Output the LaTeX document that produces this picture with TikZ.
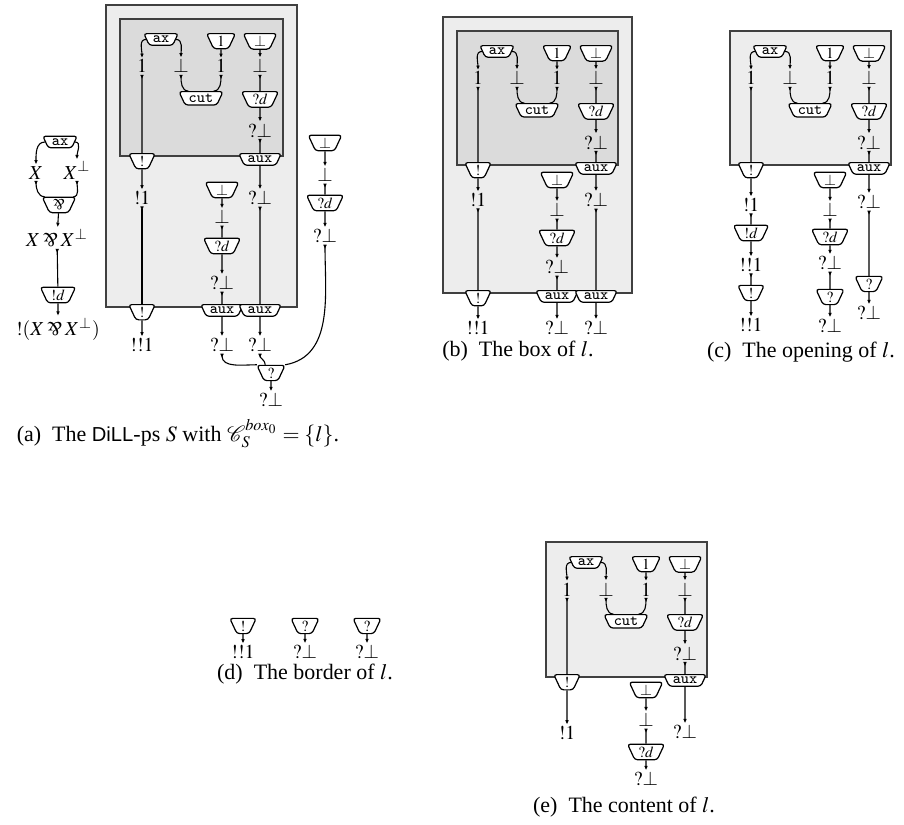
\documentclass[tikz,border=0pt]{standalone}
\usepackage{mathptmx}
\usepackage{fontspec}
\setmainfont{Liberation Serif}
\setsansfont{Liberation Sans}[Scale=0.92]
\usepackage{graphicx}
\usepackage{tikz}
\usetikzlibrary{arrows.meta,shapes.geometric}
\newcommand{\parrsym}{\mathbin{\rotatebox[origin=c]{180}{$\&$}}}
\tikzset{
  pcell/.style={shape=trapezium,shape border rotate=180,trapezium angle=65,draw,fill=white,
    rounded corners=1.3pt,line width=0.55pt,inner xsep=1.6pt,inner ysep=1.1pt,font=\scriptsize},
  topcell/.style={pcell,anchor=north},
  fml/.style={inner sep=0.6pt,font=\small},
  wire/.style={line width=0.5pt},
  flow/.style={wire,-{Latex[length=2pt,width=1.7pt]}},
  fromlab/.style={wire,{Latex[length=2pt,width=1.7pt,reversed]}-},
  outerbox/.style={draw=black!75,fill=black!7,line width=0.5pt},
  innerbox/.style={draw=black!75,fill=black!14,line width=0.5pt},
  subcap/.style={anchor=base,inner sep=0pt}
}
% contents of the box l, placed from the top left corner of its frame
\newcommand{\lcontent}[3]{%
  \begin{scope}[shift={(#2,#3)}]
    \node[topcell] (#1ax) at (40,14) {\texttt{ax}};
    \node[topcell] (#1one) at (100,14) {$1$};
    \node[topcell] (#1bot) at (139,14) {$\bot$};
    \node[fml,anchor=base] (#1la) at (21,54) {$1$};
    \node[fml,anchor=base] (#1lb) at (60,54) {$\bot$};
    \node[fml,anchor=base] (#1lc) at (100,54) {$1$};
    \node[fml,anchor=base] (#1ld) at (139,54) {$\bot$};
    \node[topcell] (#1cut) at (80,72) {\texttt{cut}};
    \node[topcell] (#1qd) at (139,72) {$?d$};
    \node[fml,anchor=base] (#1q) at (139,118) {$?\bot$};
    \draw[flow] (#1ax.west) to[out=180,in=90] (#1la.north);
    \draw[flow] (#1ax.east) to[out=0,in=90] (#1lb.north);
    \draw[flow] (#1one) -- (#1lc);
    \draw[flow] (#1bot) -- (#1ld);
    \draw[fromlab] (#1lb.south) to[out=-90,in=180] (#1cut.150);
    \draw[fromlab] (#1lc.south) to[out=-90,in=0] (#1cut.30);
    \draw[fromlab] (#1ld) -- (#1qd);
    \draw[flow] (#1qd) -- (#1q);
  \end{scope}}

\begin{document}
\begin{tikzpicture}[x=0.455pt,y=-0.455pt]
  \useasboundingbox (0,0) rectangle (904,824);
  % (a) the net S
  \node[pcell] (m-ax) at (60,142) {\texttt{ax}};
  \node[fml,anchor=base] (m-x) at (36,179) {$X$};
  \node[fml,anchor=base] (m-xb) at (77,179) {$X^\bot$};
  \node[pcell] (m-par) at (59,205) {$\parrsym$};
  \node[fml] (m-xpx) at (57,238) {$X\parrsym X^\bot$};
  \node[pcell] (m-d) at (58,295) {$!d$};
  \node[fml] (m-res) at (58,329) {$!(X\parrsym X^\bot)$};
  \draw[flow] (m-ax.west) to[out=180,in=90] (m-x.north);
  \draw[flow] (m-ax.east) to[out=0,in=90] (m-xb.north);
  \draw[fromlab] (m-x.south) to[out=-90,in=180] (m-par.150);
  \draw[fromlab] (m-xb.south) to[out=-90,in=0] (m-par.30);
  \draw[flow] (m-par) -- (m-xpx);
  \draw[fromlab] (m-xpx) -- (m-d);
  \draw[flow] (m-d) -- (m-res);

  \draw[outerbox] (106,5) rectangle (297,307);
  \draw[innerbox] (120,19) rectangle (283,156);
  \lcontent{a-}{121}{19}
  \node[topcell] (a-bang) at (142,153) {$!$};
  \node[topcell] (a-aux) at (260,153) {\texttt{aux}};
  \node[fml] (a-b1) at (142,198) {$!1$};
  \node[fml] (a-q1) at (260,198) {$?\bot$};
  \node[pcell] (a-bot) at (222,190) {$\bot$};
  \node[fml] (a-lb) at (222,217) {$\bot$};
  \node[pcell] (a-qd) at (222,246) {$?d$};
  \node[fml] (a-q2) at (222,283) {$?\bot$};
  \node[topcell] (a-bango) at (142,304) {$!$};
  \node[topcell] (a-auxa) at (222,304) {\texttt{aux}};
  \node[topcell] (a-auxb) at (260,304) {\texttt{aux}};
  \node[fml] (a-bb1) at (142,345) {$!!1$};
  \node[fml] (a-q3) at (222,345) {$?\bot$};
  \node[fml] (a-q4) at (260,345) {$?\bot$};
  \node[pcell] (a-wn) at (271,373) {$?$};
  \node[fml] (a-q5) at (271,400) {$?\bot$};
  \node[pcell] (a-bot2) at (325,143) {$\bot$};
  \node[fml] (a-lb2) at (325,175) {$\bot$};
  \node[pcell] (a-qd2) at (325,203) {$?d$};
  \node[fml] (a-q6) at (325,236) {$?\bot$};
  \draw[fromlab] (a-la) -- (a-bang);
  \draw[flow] (a-bang) -- (a-b1);
  \draw[fromlab] (a-b1) -- (a-bango);
  \draw[flow] (a-bango) -- (a-bb1);
  \draw[fromlab] (a-q) -- (a-aux);
  \draw[flow] (a-aux) -- (a-q1);
  \draw[fromlab] (a-q1) -- (a-auxb);
  \draw[flow] (a-auxb) -- (a-q4);
  \draw[flow] (a-bot) -- (a-lb);
  \draw[fromlab] (a-lb) -- (a-qd);
  \draw[flow] (a-qd) -- (a-q2);
  \draw[fromlab] (a-q2) -- (a-auxa);
  \draw[flow] (a-auxa) -- (a-q3);
  \draw[fromlab] (a-q3.south) to[out=-90,in=180] (a-wn.150);
  \draw[fromlab] (a-q4.south) to[out=-90,in=90] (a-wn.125);
  \draw[flow] (a-wn) -- (a-q5);
  \draw[flow] (a-bot2) -- (a-lb2);
  \draw[fromlab] (a-lb2) -- (a-qd2);
  \draw[flow] (a-qd2) -- (a-q6);
  \draw[fromlab] (a-q6.south) to[out=-90,in=10] (a-wn.30);
  \node[subcap] (cap-a) at (178,441) {(a)\enspace The \textsf{DiLL}-ps $S$ with $\mathcal{C}_S^{box_0}=\{l\}$.};

  % (b) the box of l
  \draw[outerbox] (443,17) rectangle (632,293);
  \draw[innerbox] (457,31) rectangle (618,165);
  \lcontent{b-}{457}{31}
  \node[topcell] (b-bang) at (478,162) {$!$};
  \node[topcell] (b-aux) at (596,162) {\texttt{aux}};
  \node[fml] (b-b1) at (478,200) {$!1$};
  \node[fml] (b-q1) at (596,200) {$?\bot$};
  \node[pcell] (b-bot) at (557,180) {$\bot$};
  \node[fml] (b-lb) at (557,210) {$\bot$};
  \node[pcell] (b-qd) at (557,238) {$?d$};
  \node[fml] (b-q2) at (557,267) {$?\bot$};
  \node[topcell] (b-bango) at (478,290) {$!$};
  \node[topcell] (b-auxa) at (557,290) {\texttt{aux}};
  \node[topcell] (b-auxb) at (596,290) {\texttt{aux}};
  \node[fml] (b-bb1) at (478,328) {$!!1$};
  \node[fml] (b-q3) at (557,328) {$?\bot$};
  \node[fml] (b-q4) at (596,328) {$?\bot$};
  \draw[fromlab] (b-la) -- (b-bang);
  \draw[flow] (b-bang) -- (b-b1);
  \draw[fromlab] (b-b1) -- (b-bango);
  \draw[flow] (b-bango) -- (b-bb1);
  \draw[fromlab] (b-q) -- (b-aux);
  \draw[flow] (b-aux) -- (b-q1);
  \draw[fromlab] (b-q1) -- (b-auxb);
  \draw[flow] (b-auxb) -- (b-q4);
  \draw[flow] (b-bot) -- (b-lb);
  \draw[fromlab] (b-lb) -- (b-qd);
  \draw[flow] (b-qd) -- (b-q2);
  \draw[fromlab] (b-q2) -- (b-auxa);
  \draw[flow] (b-auxa) -- (b-q3);
  \node[subcap] (cap-b) at (518,356) {(b)\enspace The box of $l$.};

  % (c) the opening of l
  \draw[outerbox] (730,31) rectangle (891,165);
  \lcontent{c-}{730}{31}
  \node[topcell] (c-bang) at (751,162) {$!$};
  \node[topcell] (c-aux) at (869,162) {\texttt{aux}};
  \node[fml] (c-b1) at (751,205) {$!1$};
  \node[pcell] (c-d) at (751,233) {$!d$};
  \node[fml] (c-bb1) at (751,265) {$!!1$};
  \node[pcell] (c-bang2) at (751,293) {$!$};
  \node[fml] (c-bb2) at (751,325) {$!!1$};
  \node[pcell] (c-bot) at (830,180) {$\bot$};
  \node[fml] (c-lb) at (830,210) {$\bot$};
  \node[pcell] (c-qd) at (830,237) {$?d$};
  \node[fml] (c-q2) at (830,263) {$?\bot$};
  \node[pcell] (c-wn) at (830,297) {$?$};
  \node[fml] (c-q3) at (830,326) {$?\bot$};
  \node[fml] (c-q1) at (869,202) {$?\bot$};
  \node[pcell] (c-wn2) at (869,284) {$?$};
  \node[fml] (c-q4) at (869,313) {$?\bot$};
  \draw[fromlab] (c-la) -- (c-bang);
  \draw[flow] (c-bang) -- (c-b1);
  \draw[fromlab] (c-b1) -- (c-d);
  \draw[flow] (c-d) -- (c-bb1);
  \draw[fromlab] (c-bb1) -- (c-bang2);
  \draw[flow] (c-bang2) -- (c-bb2);
  \draw[flow] (c-bot) -- (c-lb);
  \draw[fromlab] (c-lb) -- (c-qd);
  \draw[flow] (c-qd) -- (c-q2);
  \draw[fromlab] (c-q2) -- (c-wn);
  \draw[flow] (c-wn) -- (c-q3);
  \draw[fromlab] (c-q) -- (c-aux);
  \draw[flow] (c-aux) -- (c-q1);
  \draw[fromlab] (c-q1) -- (c-wn2);
  \draw[flow] (c-wn2) -- (c-q4);
  \node[subcap] (cap-c) at (801,357) {(c)\enspace The opening of $l$.};

  % (d) the border of l
  \node[pcell] (d-bang) at (243,626) {$!$};
  \node[fml] (d-bb1) at (243,652) {$!!1$};
  \node[pcell] (d-wn1) at (305,626) {$?$};
  \node[fml] (d-q1) at (305,652) {$?\bot$};
  \node[pcell] (d-wn2) at (367,626) {$?$};
  \node[fml] (d-q2) at (367,652) {$?\bot$};
  \draw[flow] (d-bang) -- (d-bb1);
  \draw[flow] (d-wn1) -- (d-q1);
  \draw[flow] (d-wn2) -- (d-q2);
  \node[subcap] (cap-d) at (305,679) {(d)\enspace The border of $l$.};

  % (e) the content of l
  \draw[outerbox] (546,542) rectangle (707,677);
  \lcontent{e-}{546}{542}
  \node[topcell] (e-bang) at (567,674) {$!$};
  \node[topcell] (e-aux) at (685,674) {\texttt{aux}};
  \node[fml] (e-b1) at (567,733) {$!1$};
  \node[fml] (e-q1) at (685,732) {$?\bot$};
  \node[pcell] (e-bot) at (646,690) {$\bot$};
  \node[fml] (e-lb) at (646,720) {$\bot$};
  \node[pcell] (e-qd) at (646,752) {$?d$};
  \node[fml] (e-q2) at (646,779) {$?\bot$};
  \draw[fromlab] (e-la) -- (e-bang);
  \draw[flow] (e-bang) -- (e-b1);
  \draw[fromlab] (e-q) -- (e-aux);
  \draw[flow] (e-aux) -- (e-q1);
  \draw[flow] (e-bot) -- (e-lb);
  \draw[fromlab] (e-lb) -- (e-qd);
  \draw[flow] (e-qd) -- (e-q2);
  \node[subcap] (cap-e) at (624,812) {(e)\enspace The content of $l$.};
\end{tikzpicture}
\end{document}
